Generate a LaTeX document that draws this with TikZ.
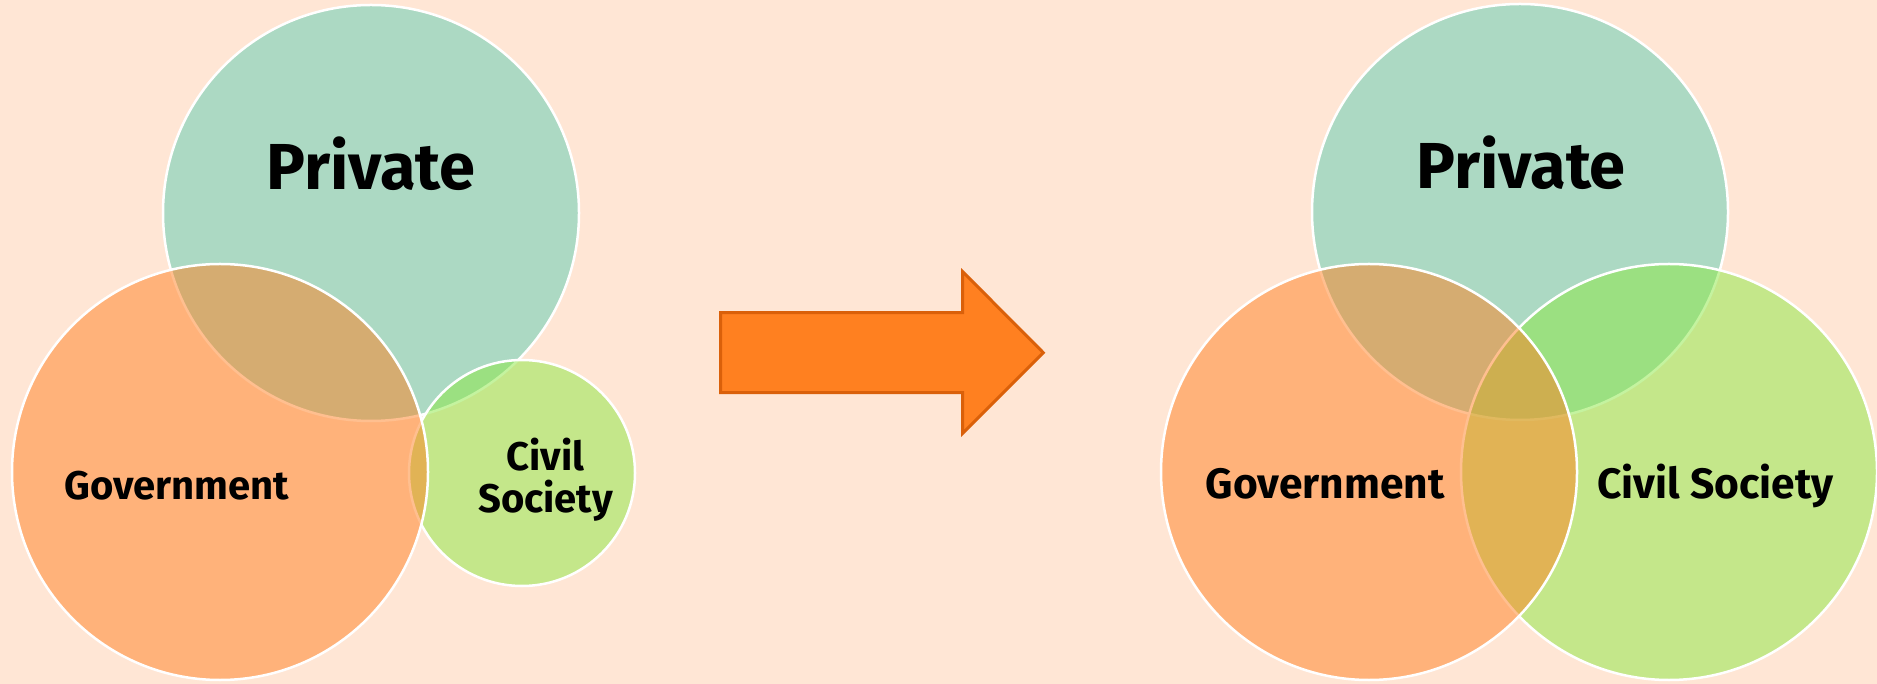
\documentclass[tikz,border=0pt]{standalone}
\usepackage{fontspec}
\setmainfont{Fira Sans}
\usepackage{tikz}
\usetikzlibrary{positioning}
\definecolor{bgPeach}{RGB}{255,230,213}
\definecolor{privTeal}{RGB}{91,206,179}
\definecolor{govOrange}{RGB}{255,128,33}
\definecolor{civGreen}{RGB}{139,232,65}
\definecolor{arrowFill}{RGB}{255,128,32}
\definecolor{arrowLine}{RGB}{218,96,10}
\tikzstyle{sector} = [circle, inner sep=0pt, draw=white, line width=1pt, fill opacity=0.5]
\tikzstyle{privCircle} = [sector, fill=privTeal, minimum size=166.4pt]
\tikzstyle{govCircle} = [sector, fill=govOrange, minimum size=166.4pt]
\tikzstyle{civCircle} = [sector, fill=civGreen, minimum size=166.4pt]
\tikzstyle{bigLabel} = [anchor=base, inner sep=0pt, font=\bfseries\fontsize{26}{31}\selectfont]
\tikzstyle{smallLabel} = [anchor=base, inner sep=0pt, font=\bfseries\fontsize{17}{17}\selectfont]
\tikzstyle{tinyLabel} = [anchor=base, inner sep=0pt, font=\bfseries\fontsize{16}{17}\selectfont]
\tikzstyle{shiftArrow} = [fill=arrowFill, draw=arrowLine, line width=1.2pt, line join=miter]

\begin{document}
\begin{tikzpicture}[x=0.4pt, y=-0.4pt]
    \useasboundingbox (0,0) rectangle (1877,684);
    \fill[bgPeach] (0,0) rectangle (1877,684);
    % before: small civil society
    \node (privA) [privCircle] at (371,213) {};
    \node (civA) [civCircle, minimum size=90.4pt] at (522,473) {};
    \node (govA) [govCircle] at (220,472) {};
    \node (privAtext) [bigLabel] at (371,190) {Private};
    \node (govAtext) [tinyLabel] at (177,499.5) {Government};
    \node (civAtext) [tinyLabel, anchor=center, align=center] at (545.5,479.5) {Civil\\Society};
    % arrow
    \draw[shiftArrow] (720.7,312.7) -- (962.7,312.7) -- (962.7,271.7) -- (1043.3,352.7)
        -- (962.7,433.3) -- (962.7,392.7) -- (720.7,392.7) -- cycle;
    % after: equal circles
    \node (privB) [privCircle] at (1520,212) {};
    \node (civB) [civCircle] at (1669,472) {};
    \node (govB) [govCircle] at (1369,472) {};
    \node (privBtext) [bigLabel] at (1521,188.5) {Private};
    \node (govBtext) [smallLabel] at (1325,499) {Government};
    \node (civBtext) [smallLabel] at (1715.5,499) {Civil Society};
\end{tikzpicture}
\end{document}
